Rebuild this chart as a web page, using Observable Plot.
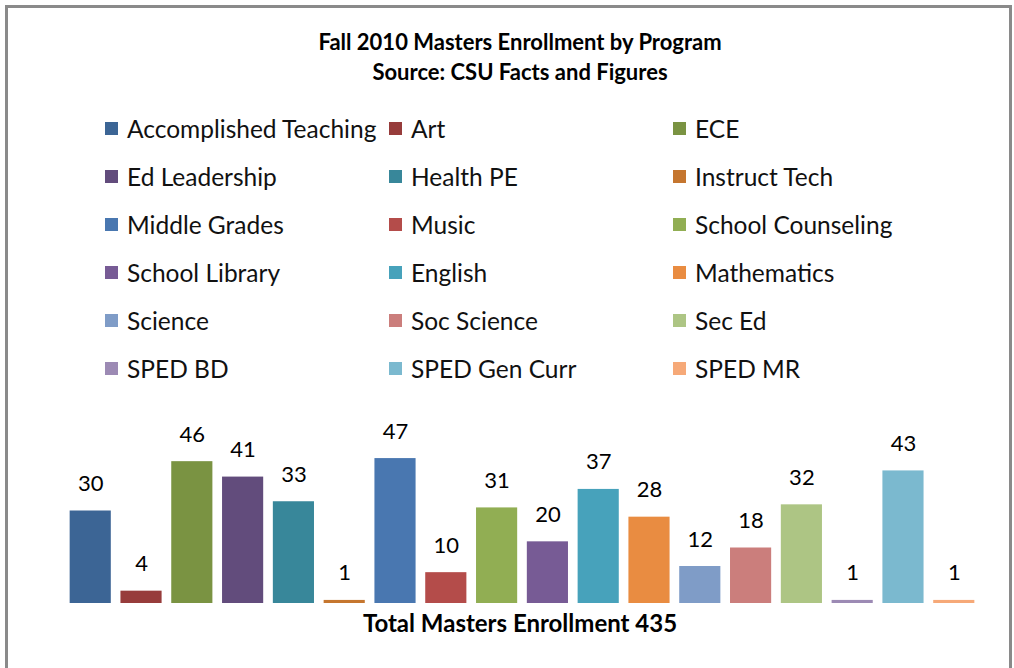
<!DOCTYPE html>
<html>
<head>
<meta charset="utf-8">
<script src="https://cdn.jsdelivr.net/npm/d3@7"></script>
<script src="https://cdn.jsdelivr.net/npm/@observablehq/plot@0.6"></script>
<style>
  html, body { margin: 0; padding: 0; background: #fff; }
  body { width: 1014px; height: 668px; position: relative; overflow: hidden; font-family: Lato, "Open Sans", sans-serif; color: #000; }
  #frame { position: absolute; left: 5px; top: 5px; width: 1007px; height: 680px; border: 3px solid #8a8a8a; box-sizing: border-box; }
  #title { position: absolute; left: 0; width: 1040px; top: 27px; text-align: center; font-weight: bold; font-size: 22px; line-height: 30px; }
  #legend { position: absolute; left: 105px; top: 110px; display: grid; grid-template-columns: 284px 284px 284px; grid-auto-rows: 48px; }
  .item { display: flex; align-items: center; height: 36px; font-size: 24.5px; white-space: nowrap; color: #111; }
  .sw { width: 13px; height: 13px; margin-right: 9px; flex: none; }
  #chart { position: absolute; left: 0; top: 400px; }
  #caption { position: absolute; left: 0; width: 1040px; top: 608px; text-align: center; font-weight: bold; font-size: 24px; line-height: 30px; }
</style>
</head>
<body>
<div id="frame"></div>
<div id="title">Fall 2010 Masters Enrollment by Program<br>Source: CSU Facts and Figures</div>
<div id="legend"></div>
<div id="chart"></div>
<div id="caption"></div>
<script>
const programs = ["Accomplished Teaching", "Art", "ECE", "Ed Leadership", "Health PE", "Instruct Tech",
  "Middle Grades", "Music", "School Counseling", "School Library", "English", "Mathematics",
  "Science", "Soc Science", "Sec Ed", "SPED BD", "SPED Gen Curr", "SPED MR"];
const enrollment = [30, 4, 46, 41, 33, 1, 47, 10, 31, 20, 37, 28, 12, 18, 32, 1, 43, 1];
const colors = ["#3c6595", "#973c3b", "#7a9342", "#624c7c", "#38879a", "#c5762f",
  "#4977b0", "#b44c4a", "#91ae53", "#775b95", "#47a2bb", "#e98c41",
  "#7f9cc7", "#cb7e7c", "#adc584", "#9c8ab4", "#7bb9cf", "#f6a978"];
const captionText = "Total Masters Enrollment";

const data = programs.map((p, i) => ({program: p, value: enrollment[i]}));

const chart = Plot.plot({
  width: 1014,
  height: 240,
  marginTop: 18,
  marginBottom: 37,
  marginLeft: 60,
  marginRight: 30,
  style: {fontFamily: "Lato, sans-serif", background: "transparent"},
  x: {domain: programs, padding: 0.19, round: false, axis: null},
  y: {domain: [0, 60], axis: null},
  color: {domain: programs, range: colors},
  marks: [
    Plot.barY(data, {x: "program", y: "value", fill: "program"}),
    Plot.text(data, {x: "program", y: "value", text: d => String(d.value), lineAnchor: "bottom", dy: -20, fontSize: 22, fill: "#000"})
  ]
});
document.getElementById("chart").appendChild(chart);

const color = chart.scale("color");
const legend = d3.select("#legend");
programs.forEach(p => {
  const item = legend.append("div").attr("class", "item");
  item.append("div").attr("class", "sw").style("background", color.apply(p));
  item.append("span").text(p);
});

document.getElementById("caption").textContent = captionText + " " + d3.sum(enrollment);
</script>
</body>
</html>
